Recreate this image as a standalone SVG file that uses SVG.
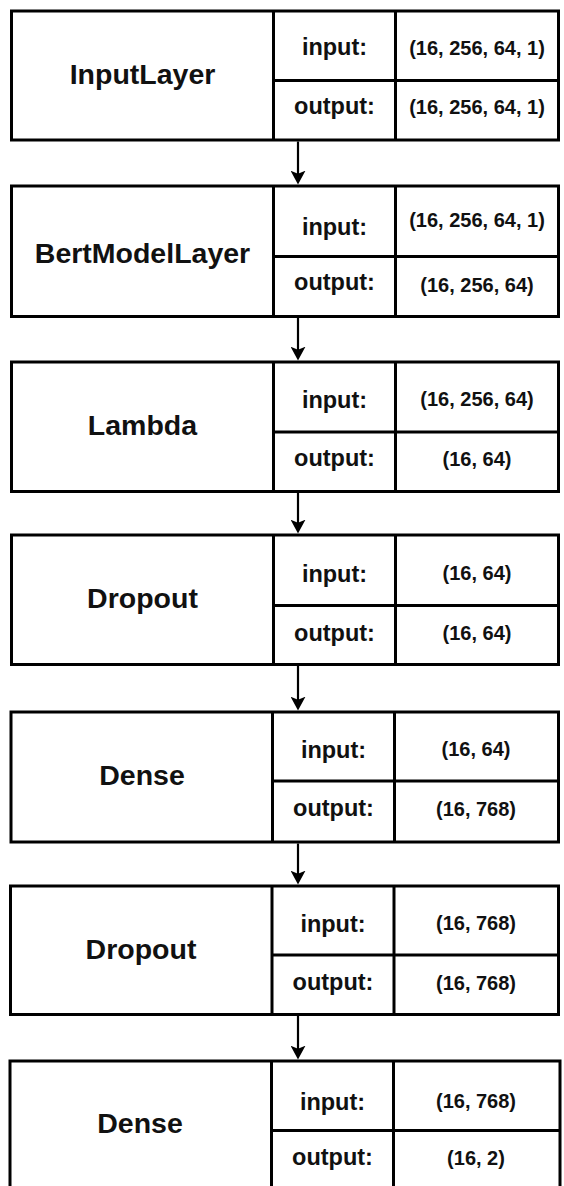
<svg xmlns="http://www.w3.org/2000/svg" width="564" height="1186" viewBox="0 0 564 1186">
  <defs>
    <style>
      .box { fill: #ffffff; stroke: #000000; stroke-width: 3; }
      .sep { stroke: #000000; stroke-width: 3; fill: none; }
      .edge { stroke: #000000; stroke-width: 2.2; fill: none; }
      text { font-family: "Liberation Sans", Arial, sans-serif; font-weight: bold; fill: #111111; text-anchor: middle; }
      .name { font-size: 28.5px; }
      .lbl { font-size: 23.5px; }
      .val { font-size: 20px; }
    </style>
    <marker id="head" markerUnits="userSpaceOnUse" markerWidth="15" markerHeight="15" viewBox="0 0 14 14" refX="5" refY="7" orient="auto">
      <path d="M0,0 L13,7 L0,14 L3,7 Z" fill="#000000"/>
    </marker>
  </defs>

  <!-- layer nodes: name | input/output labels | shapes -->
  <g id="node-inputlayer">
    <rect class="box" x="11.5" y="11" width="547" height="129"/>
    <line class="sep" x1="273.5" y1="11" x2="273.5" y2="140"/>
    <line class="sep" x1="395.5" y1="11" x2="395.5" y2="140"/>
    <line class="sep" x1="273.5" y1="80.5" x2="558.5" y2="80.5"/>
    <text class="name" x="142.5" y="84">InputLayer</text>
    <text class="lbl" x="334.5" y="55">input:</text>
    <text class="lbl" x="334.5" y="114">output:</text>
    <text class="val" x="477" y="55">(16, 256, 64, 1)</text>
    <text class="val" x="477" y="114">(16, 256, 64, 1)</text>
  </g>

  <g id="node-bertmodellayer">
    <rect class="box" x="11.5" y="186" width="547" height="130.5"/>
    <line class="sep" x1="273.5" y1="186" x2="273.5" y2="316.5"/>
    <line class="sep" x1="395.5" y1="186" x2="395.5" y2="316.5"/>
    <line class="sep" x1="273.5" y1="256.5" x2="558.5" y2="256.5"/>
    <text class="name" x="142.5" y="263">BertModelLayer</text>
    <text class="lbl" x="334.5" y="235">input:</text>
    <text class="lbl" x="334.5" y="290">output:</text>
    <text class="val" x="477" y="227">(16, 256, 64, 1)</text>
    <text class="val" x="477" y="292">(16, 256, 64)</text>
  </g>

  <g id="node-lambda">
    <rect class="box" x="11.5" y="362" width="547" height="129.5"/>
    <line class="sep" x1="273.5" y1="362" x2="273.5" y2="491.5"/>
    <line class="sep" x1="395.5" y1="362" x2="395.5" y2="491.5"/>
    <line class="sep" x1="273.5" y1="432" x2="558.5" y2="432"/>
    <text class="name" x="142.5" y="435">Lambda</text>
    <text class="lbl" x="334.5" y="408">input:</text>
    <text class="lbl" x="334.5" y="466">output:</text>
    <text class="val" x="477" y="406">(16, 256, 64)</text>
    <text class="val" x="477" y="466">(16, 64)</text>
  </g>

  <g id="node-dropout-1">
    <rect class="box" x="11.5" y="535" width="547" height="129.5"/>
    <line class="sep" x1="273.5" y1="535" x2="273.5" y2="664.5"/>
    <line class="sep" x1="395.5" y1="535" x2="395.5" y2="664.5"/>
    <line class="sep" x1="273.5" y1="605.5" x2="558.5" y2="605.5"/>
    <text class="name" x="142.5" y="608">Dropout</text>
    <text class="lbl" x="334.5" y="582">input:</text>
    <text class="lbl" x="334.5" y="641">output:</text>
    <text class="val" x="477" y="580">(16, 64)</text>
    <text class="val" x="477" y="640">(16, 64)</text>
  </g>

  <g id="node-dense-1">
    <rect class="box" x="11" y="712" width="547.5" height="130"/>
    <line class="sep" x1="272.5" y1="712" x2="272.5" y2="842"/>
    <line class="sep" x1="394.5" y1="712" x2="394.5" y2="842"/>
    <line class="sep" x1="272.5" y1="781" x2="558.5" y2="781"/>
    <text class="name" x="142" y="785">Dense</text>
    <text class="lbl" x="333.5" y="758">input:</text>
    <text class="lbl" x="333.5" y="816">output:</text>
    <text class="val" x="476" y="756">(16, 64)</text>
    <text class="val" x="476" y="816">(16, 768)</text>
  </g>

  <g id="node-dropout-2">
    <rect class="box" x="10.5" y="886" width="548" height="128.5"/>
    <line class="sep" x1="272" y1="886" x2="272" y2="1014.5"/>
    <line class="sep" x1="394" y1="886" x2="394" y2="1014.5"/>
    <line class="sep" x1="272" y1="955" x2="558.5" y2="955"/>
    <text class="name" x="141" y="959">Dropout</text>
    <text class="lbl" x="333" y="932">input:</text>
    <text class="lbl" x="333" y="990">output:</text>
    <text class="val" x="476" y="930">(16, 768)</text>
    <text class="val" x="476" y="990">(16, 768)</text>
  </g>

  <g id="node-dense-2">
    <rect class="box" x="10" y="1061" width="550" height="140"/>
    <line class="sep" x1="271.5" y1="1061" x2="271.5" y2="1186"/>
    <line class="sep" x1="393.5" y1="1061" x2="393.5" y2="1186"/>
    <line class="sep" x1="271.5" y1="1130.5" x2="560" y2="1130.5"/>
    <text class="name" x="140" y="1133">Dense</text>
    <text class="lbl" x="332.5" y="1110">input:</text>
    <text class="lbl" x="332.5" y="1165">output:</text>
    <text class="val" x="476" y="1108">(16, 768)</text>
    <text class="val" x="476" y="1165">(16, 2)</text>
  </g>

  <!-- connectors between consecutive layers -->
  <g id="connectors">
    <line class="edge" x1="298" y1="141.5" x2="298" y2="176" marker-end="url(#head)"/>
    <line class="edge" x1="298" y1="318" x2="298" y2="352" marker-end="url(#head)"/>
    <line class="edge" x1="298" y1="493" x2="298" y2="525" marker-end="url(#head)"/>
    <line class="edge" x1="298" y1="666" x2="298" y2="702" marker-end="url(#head)"/>
    <line class="edge" x1="298" y1="843.5" x2="298" y2="876" marker-end="url(#head)"/>
    <line class="edge" x1="298" y1="1016" x2="298" y2="1051" marker-end="url(#head)"/>
  </g>
</svg>
